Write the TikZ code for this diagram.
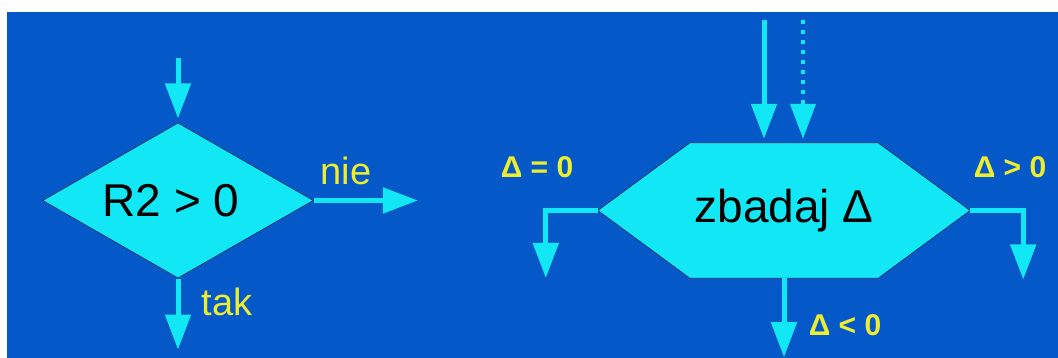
\documentclass[tikz,border=0pt]{standalone}
\usepackage{fontspec}
\setmainfont{Liberation Sans}
\usetikzlibrary{arrows.meta, positioning, shapes.geometric, backgrounds}
\definecolor{tlo}{HTML}{0558C8}
\definecolor{blok}{HTML}{12E8F5}
\definecolor{napis}{HTML}{EEEE30}
\definecolor{obrys}{HTML}{123A78}

\begin{document}
\begin{tikzpicture}[x=1pt, y=-1pt,
    strzalka/.style={blok, line width=5pt, -{Triangle[length=35pt, width=25pt]}},
    opis/.style={napis, font=\fontsize{38}{44}\selectfont},
    warunek/.style={napis, font=\bfseries\fontsize{30}{34}\selectfont},
    duzy/.style={font=\fontsize{46}{52}\selectfont}]
    \useasboundingbox (0,0) rectangle (1058,358);

    % Warunek R2 > 0
    \node[diamond, duzy, fill=blok, draw=obrys, line width=0.8pt,
          minimum width=271pt, minimum height=153pt, inner sep=0pt] (war) at (178,200.5) {\hspace*{-14pt}R2 > 0};
    \coordinate[above=64pt of war.north] (war-we);
    \coordinate[right=104pt of war.east] (war-nie);
    \coordinate[below=71pt of war.south] (war-tak);

    \draw[strzalka, shorten >=4pt] (war-we) -- (war.north);
    \draw[strzalka] (war.east) -- (war-nie);
    \draw[strzalka] (war.south) -- (war-tak);
    \node[opis, anchor=base] (nie) at (346,185) {nie};
    \node[opis, anchor=base] (tak) at (227,315) {tak};

    % Badanie delty
    \node[duzy, minimum width=372pt, minimum height=135pt, inner sep=0pt] (zb) at (784,210.5) {zbadaj Δ};
    \begin{scope}[on background layer]
        \fill[tlo] (7,12) rectangle (1058,358);
        \filldraw[blok, draw=obrys, line width=0.8pt]
            (zb.west) -- ([xshift=92pt]zb.north west) -- ([xshift=-92pt]zb.north east)
            -- (zb.east) -- ([xshift=-92pt]zb.south east) -- ([xshift=92pt]zb.south west) -- cycle;
    \end{scope}
    \coordinate[above left=123pt and 20pt of zb.north] (zb-we1);
    \coordinate[above right=123pt and 19pt of zb.north] (zb-we2);
    \coordinate[below left=67.5pt and 52pt of zb.west] (zb-lewo);
    \coordinate[below right=69pt and 53pt of zb.east] (zb-prawo);
    \coordinate[below=79pt of zb.south] (zb-dol);

    \draw[strzalka, shorten >=4pt] (zb-we1) -- (zb-we1 |- zb.north);
    \draw[strzalka, line width=4pt, dash pattern=on 4pt off 6pt, shorten >=4pt] (zb-we2) -- (zb-we2 |- zb.north);
    \draw[strzalka] (zb.west) -| (zb-lewo);
    \draw[strzalka] (zb.east) -| (zb-prawo);
    \draw[strzalka] (zb.south) -- (zb-dol);

    \node[warunek, anchor=base] (d-zero) at (537,178) {Δ = 0};
    \node[warunek, anchor=base] (d-plus) at (1010,178) {Δ > 0};
    \node[warunek, anchor=base] (d-minus) at (845,335) {Δ < 0};
\end{tikzpicture}
\end{document}
